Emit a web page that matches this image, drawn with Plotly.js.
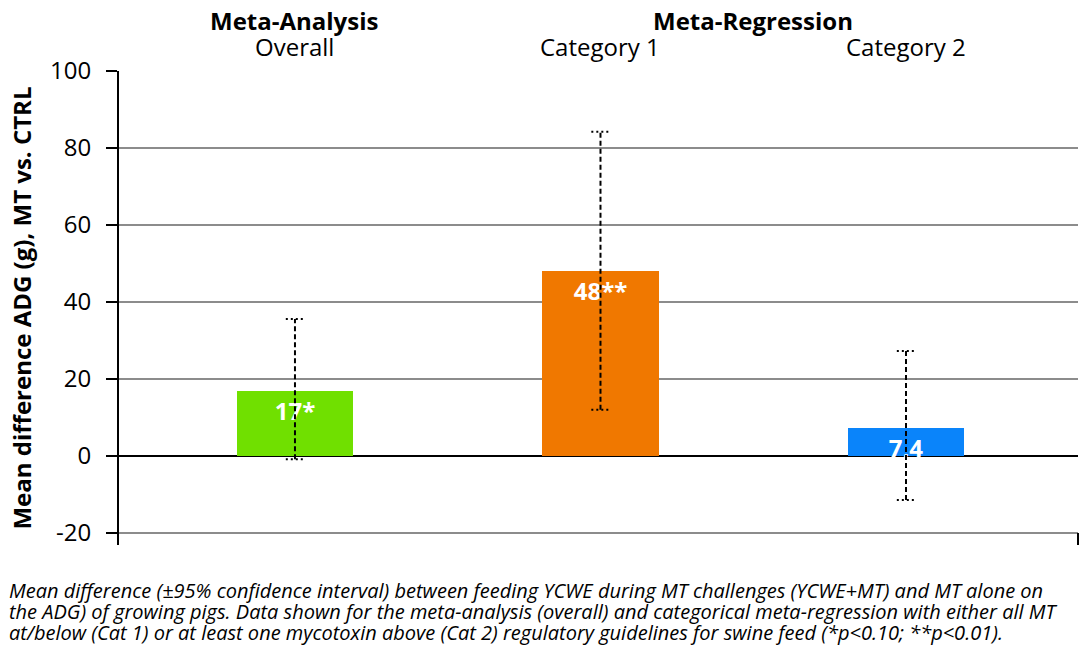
<!DOCTYPE html>
<html>
<head>
<meta charset="utf-8">
<script src="https://cdn.plot.ly/plotly-3.0.1.min.js"></script>
<style>
  html, body { margin: 0; padding: 0; background: #ffffff; }
  #chart { width: 1080px; height: 648px; }
</style>
</head>
<body>
<div id="chart"></div>
<script>
// ---- data ----
const categories = ["Overall", "Category 1", "Category 2"];
const groupHeaders = ["Meta-Analysis", "Meta-Regression"];
const meanDiff = [17, 48, 7.4];
const ciUpper = [35.6, 84.2, 27.3];
const ciLower = [-0.8, 12, -11.4];
const barLabels = ["17*", "48**", "7,4"];
const barColors = ["#70e000", "#f07800", "#0a84fa"];
const yTickVals = [-20, 0, 20, 40, 60, 80, 100];
const yTitle = "Mean difference ADG (g), MT vs. CTRL";
const captionLines = [
  "Mean difference (±95% confidence interval) between feeding YCWE during MT challenges (YCWE+MT) and MT alone on",
  "the ADG) of growing pigs. Data shown for the meta-analysis (overall) and categorical meta-regression with either all MT",
  "at/below (Cat 1) or at least one mycotoxin above (Cat 2) regulatory guidelines for swine feed (*p<0.10; **p<0.01)."
];

const idx = categories.map((c, i) => i);
const capHalf = 0.03;

// error bar stems and caps
const stemX = [], stemY = [];
const capX = [], capY = [];
idx.forEach(i => {
  stemX.push(i, i, null);
  stemY.push(ciLower[i], ciUpper[i], null);
  capX.push(i - capHalf, i + capHalf, null, i - capHalf, i + capHalf, null);
  capY.push(ciUpper[i], ciUpper[i], null, ciLower[i], ciLower[i], null);
});

const FONT = "Open Sans, Noto Sans, sans-serif";

const traces = [
  {
    type: "bar",
    x: idx,
    y: meanDiff,
    width: 0.38,
    marker: { color: barColors, line: { width: 0 } },
    text: barLabels,
    texttemplate: "%{text}",
    textposition: "inside",
    insidetextanchor: "end",
    constraintext: "none",
    textangle: 0,
    textfont: { family: FONT, size: 24, color: "#ffffff", weight: "bold" },
    hoverinfo: "skip",
    showlegend: false
  },
  {
    type: "scatter",
    mode: "lines",
    x: stemX,
    y: stemY,
    line: { color: "#000000", width: 2, dash: "5px,3px" },
    hoverinfo: "skip",
    showlegend: false
  },
  {
    type: "scatter",
    mode: "lines",
    x: capX,
    y: capY,
    line: { color: "#000000", width: 2, dash: "2px,3px" },
    hoverinfo: "skip",
    showlegend: false
  }
];

const plotTop = 71, plotBottom = 545, plotLeft = 119, plotRight = 1078;
const plotH = plotBottom - plotTop;
const plotW = plotRight - plotLeft;
const pyFromTop = px => (plotBottom - px) / plotH;   // pixel row -> paper y
const pxToPaperX = px => (px - plotLeft) / plotW;

const annotations = [];
// category labels on top
idx.forEach(i => {
  annotations.push({
    x: i, xref: "x", y: pyFromTop(47), yref: "paper",
    text: categories[i], showarrow: false,
    xanchor: "center", yanchor: "middle",
    font: { family: FONT, size: 24, color: "#000000" }
  });
});
// group headers
annotations.push({
  x: idx[0], xref: "x", y: pyFromTop(20), yref: "paper",
  text: "<b>" + groupHeaders[0] + "</b>", showarrow: false,
  xanchor: "center", yanchor: "middle",
  font: { family: FONT, size: 24, color: "#000000" }
});
annotations.push({
  x: (idx[1] + idx[2]) / 2, xref: "x", y: pyFromTop(20), yref: "paper",
  text: "<b>" + groupHeaders[1] + "</b>", showarrow: false,
  xanchor: "center", yanchor: "middle",
  font: { family: FONT, size: 24, color: "#000000" }
});
// caption
captionLines.forEach((line, k) => {
  annotations.push({
    x: pxToPaperX(7), xref: "paper",
    y: pyFromTop(590 + 21 * k), yref: "paper",
    text: "<i>" + line.replace(/</g, "&lt;") + "</i>",
    showarrow: false, xanchor: "left", yanchor: "middle",
    font: { family: FONT, size: 20, color: "#000000", style: "italic" }
  });
});

const layout = {
  width: 1080,
  height: 648,
  margin: { l: plotLeft, r: 1080 - plotRight, t: plotTop, b: 648 - plotBottom },
  paper_bgcolor: "#ffffff",
  plot_bgcolor: "#ffffff",
  font: { family: FONT, color: "#000000" },
  showlegend: false,
  bargap: 0,
  xaxis: {
    range: [-0.576, 2.563],
    showgrid: false,
    zeroline: false,
    showline: false,
    showticklabels: false,
    ticks: "",
    fixedrange: true
  },
  yaxis: {
    range: [-23.1, 100],
    tickvals: yTickVals,
    ticktext: yTickVals.map(v => String(v)),
    showgrid: true,
    gridcolor: "#8c8c8c",
    gridwidth: 2,
    zeroline: true,
    zerolinecolor: "#000000",
    zerolinewidth: 2,
    showline: true,
    linecolor: "#000000",
    linewidth: 2,
    ticks: "outside",
    ticklen: 11,
    tickwidth: 2,
    tickcolor: "#000000",
    ticklabelstandoff: 10,
    tickfont: { family: FONT, size: 24, color: "#000000" },
    title: {
      text: "<b>" + yTitle + "</b>",
      font: { family: FONT, size: 24, color: "#000000" },
      standoff: 12
    },
    automargin: false,
    fixedrange: true
  },
  shapes: [
    {
      type: "line", xref: "paper", yref: "paper",
      x0: 1, x1: 1, y0: 0, y1: pyFromTop(533),
      line: { color: "#000000", width: 2 }
    }
  ],
  annotations: annotations
};

Plotly.newPlot("chart", traces, layout, { displayModeBar: false, staticPlot: true });
</script>
</body>
</html>
